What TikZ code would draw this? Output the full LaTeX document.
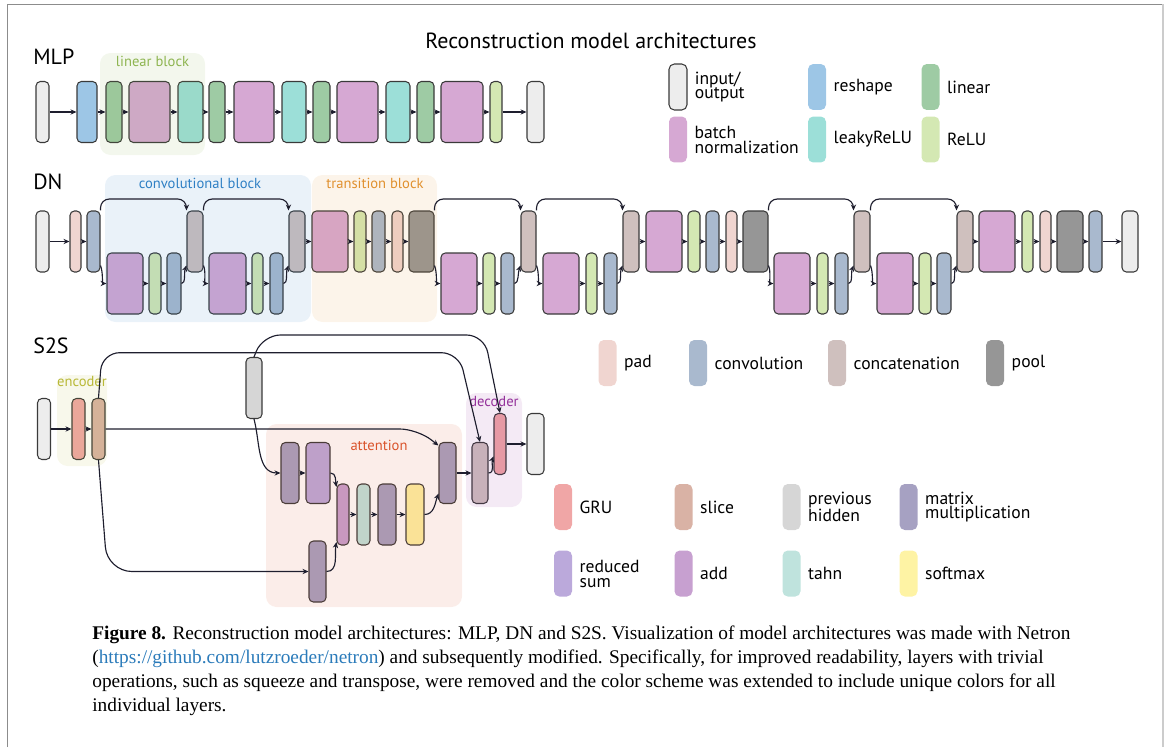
\documentclass[tikz,border=0pt]{standalone}
\usepackage{fontspec}
\setmainfont{PT Sans}
\newfontfamily\capfont{Liberation Serif}
\usetikzlibrary{arrows.meta, positioning}

\definecolor{cIO}{HTML}{EDEDED}
\definecolor{cRes}{HTML}{9DC6E6}
\definecolor{cLin}{HTML}{9ECBA4}
\definecolor{cBN}{HTML}{D6A8D3}
\definecolor{cLeak}{HTML}{9CDFD8}
\definecolor{cRelu}{HTML}{D4E8B3}
\definecolor{cPad}{HTML}{F0D5D0}
\definecolor{cConv}{HTML}{A9B9CE}
\definecolor{cCat}{HTML}{CFC0BE}
\definecolor{cPool}{HTML}{969696}
\definecolor{cGRU}{HTML}{F0A6A6}
\definecolor{cSlice}{HTML}{D9B2A5}
\definecolor{cHid}{HTML}{D6D6D6}
\definecolor{cMM}{HTML}{A6A1C2}
\definecolor{cSum}{HTML}{BBA9DB}
\definecolor{cAdd}{HTML}{C7A0D0}
\definecolor{cTanh}{HTML}{BFE3DD}
\definecolor{cSoft}{HTML}{FEF3A4}
\definecolor{cEdge}{HTML}{3A3A3A}
\definecolor{cArr}{HTML}{1E1E2E}
\definecolor{cLinBlk}{HTML}{8DB450}
\definecolor{cConvBlk}{HTML}{2E7FC4}
\definecolor{cTransBlk}{HTML}{E0902E}
\definecolor{cEnc}{HTML}{B8B836}
\definecolor{cAtt}{HTML}{D9532B}
\definecolor{cDec}{HTML}{93309A}
\definecolor{cLink}{HTML}{2B7BBA}

\begin{document}
\begin{tikzpicture}[x=0.02cm, y=-0.02cm, >={Stealth[length=3.4pt,width=3pt]},
        box/.style 2 args={draw=cEdge, line width=0.6pt, rounded corners=2.5pt, inner sep=0pt,
            fill=#1, minimum width=#2*0.02cm, minimum height=1.22cm},
        flow/.style={->, draw=cArr, line width=0.65pt},
        skiparc/.style={rounded corners=5pt, to path={(\tikztostart.north east) -- (\tikztostart.north east |- dn_top)
            -- (\tikztotarget.north west |- dn_top) -- (\tikztotarget.north west)}},
        godown/.style={to path={([yshift=4pt]\tikztostart.south east) .. controls +(1.5pt,-4pt) and +(-2.5pt,0pt) .. (\tikztotarget.west)}},
        goup/.style={to path={(\tikztostart.east) .. controls +(2.5pt,0pt) and +(-1.5pt,-4pt) .. ([yshift=4pt]\tikztotarget.south west)}},
        blk/.style={fill=#1, fill opacity=0.1, rounded corners=6pt},
        blklab/.style={text=#1, inner sep=0pt, font=\fontsize{8.3}{9}\selectfont},
        legbox/.style={rounded corners=3pt, inner sep=0pt, minimum width=0.36cm, minimum height=0.92cm},
        legtxt/.style={inner sep=0pt, align=left, font=\fontsize{10}{8.5}\selectfont},
        rowlab/.style={anchor=west, inner sep=0pt, font=\fontsize{12.5}{14}\selectfont},
        capt/.style={anchor=north west, inner sep=0pt, align=left, font=\capfont\fontsize{11}{13.6}\selectfont}]

    \useasboundingbox (0,0) rectangle (1168,747);
    \draw[black!45, line width=0.5pt] (7,747) -- (7,4) -- (1163,4);
    \draw[black!20, line width=1.2pt] (1163,4) -- (1163,747);

    \node[font=\fontsize{12.5}{14}\selectfont] (ttl) at (591,41) {Reconstruction model architectures};
    \node[rowlab] (lab_mlp) at (33,57)  {MLP};
    \node[rowlab] (lab_dn)  at (33,182) {DN};
    \node[rowlab] (lab_s2s) at (33,346) {S2S};

    % MLP
    \node[box={cIO}{13}]   (m_in)  at (42.5,112)  {};
    \node[box={cRes}{20}]  (m_rs)  at (87,112)    {};
    \node[box={cLin}{16}]  (m_li1) at (114,112)   {};
    \node[box={cBN}{41}]   (m_bn1) at (149.5,112) {};
    \node[box={cLeak}{25}] (m_lk1) at (190.5,112) {};
    \node[box={cLin}{16}]  (m_li2) at (217,112)   {};
    \node[box={cBN}{40}]   (m_bn2) at (254,112)   {};
    \node[box={cLeak}{24}] (m_lk2) at (294,112)   {};
    \node[box={cLin}{17}]  (m_li3) at (321.5,112) {};
    \node[box={cBN}{41}]   (m_bn3) at (357.5,112) {};
    \node[box={cLeak}{24}] (m_lk3) at (398,112)   {};
    \node[box={cLin}{17}]  (m_li4) at (425.5,112) {};
    \node[box={cBN}{42}]   (m_bn4) at (462,112)   {};
    \node[box={cRelu}{12}] (m_re)  at (496,112)   {};
    \node[box={cIO}{17}]   (m_out) at (535.5,112) {};

    % DN
    \node[box={cIO}{13}]   (d_in)  at (42.5,241.5)  {};
    \node[box={cPad}{11}]  (d_pd0) at (75.5,241.5)  {};
    \node[box={cConv}{13}] (d_cv0) at (93.5,241.5)  {};
    \node[box={cBN}{36}]   (d_bn1) at (125,283.5)   {};
    \node[box={cRelu}{12}] (d_re1) at (155,283.5)   {};
    \node[box={cConv}{14}] (d_cv1) at (174,283.5)   {};
    \node[box={cCat}{16}]  (d_ct1) at (195,241.5)   {};
    \node[box={cBN}{37}]   (d_bn2) at (227.5,283.5) {};
    \node[box={cRelu}{11}] (d_re2) at (257.5,283.5) {};
    \node[box={cConv}{13}] (d_cv2) at (276.5,283.5) {};
    \node[box={cCat}{16}]  (d_ct2) at (297,241.5)   {};
    \node[box={cBN}{36}]   (d_bn3) at (330,241.5)   {};
    \node[box={cRelu}{12}] (d_re3) at (360,241.5)   {};
    \node[box={cConv}{13}] (d_cv3) at (378.5,241.5) {};
    \node[box={cPad}{11}]  (d_pd3) at (397.5,241.5) {};
    \node[box={cPool}{25}] (d_pl3) at (421.5,241.5) {};
    \node[box={cBN}{36}]   (d_bn4) at (459,283.5)   {};
    \node[box={cRelu}{12}] (d_re4) at (489,283.5)   {};
    \node[box={cConv}{13}] (d_cv4) at (507.5,283.5) {};
    \node[box={cCat}{15}]  (d_ct4) at (528.5,241.5) {};
    \node[box={cBN}{36}]   (d_bn5) at (561,283.5)   {};
    \node[box={cRelu}{11}] (d_re5) at (591.5,283.5) {};
    \node[box={cConv}{13}] (d_cv5) at (610.5,283.5) {};
    \node[box={cCat}{16}]  (d_ct5) at (631,241.5)   {};
    \node[box={cBN}{36}]   (d_bn6) at (664,241.5)   {};
    \node[box={cRelu}{12}] (d_re6) at (694,241.5)   {};
    \node[box={cConv}{13}] (d_cv6) at (712.5,241.5) {};
    \node[box={cPad}{11}]  (d_pd6) at (731.5,241.5) {};
    \node[box={cPool}{25}] (d_pl6) at (755.5,241.5) {};
    \node[box={cBN}{36}]   (d_bn7) at (792,283.5)   {};
    \node[box={cRelu}{11}] (d_re7) at (822.5,283.5) {};
    \node[box={cConv}{13}] (d_cv7) at (841.5,283.5) {};
    \node[box={cCat}{16}]  (d_ct7) at (862,241.5)   {};
    \node[box={cBN}{36}]   (d_bn8) at (895,283.5)   {};
    \node[box={cRelu}{12}] (d_re8) at (925,283.5)   {};
    \node[box={cConv}{14}] (d_cv8) at (944,283.5)   {};
    \node[box={cCat}{16}]  (d_ct8) at (965,241.5)   {};
    \node[box={cBN}{36}]   (d_bn9) at (997,241.5)   {};
    \node[box={cRelu}{11}] (d_re9) at (1027.5,241.5) {};
    \node[box={cPad}{11}]  (d_pd9) at (1045.5,241.5) {};
    \node[box={cPool}{26}] (d_pl9) at (1070,241.5)  {};
    \node[box={cConv}{13}] (d_cv9) at (1095.5,241.5) {};
    \node[box={cIO}{16}]   (d_out) at (1130,241.5)  {};

    % S2S
    \node[box={cIO}{13}]    (s_in)   at (44,429)     {};
    \node[box={cGRU}{13}]   (s_gru)  at (78.5,429)   {};
    \node[box={cSlice}{13}] (s_sl)   at (98.5,429)   {};
    \node[box={cHid}{16}]   (s_ph)   at (254,388)    {};
    \node[box={cMM}{18}]    (s_mm1)  at (290,473)    {};
    \node[box={cSum}{24}]   (s_rs)   at (318,473)    {};
    \node[box={cAdd}{12}]   (s_add)  at (343,514.5)  {};
    \node[box={cTanh}{13}]  (s_th)   at (363.5,514.5) {};
    \node[box={cMM}{18}]    (s_mm2)  at (387,514.5)  {};
    \node[box={cSoft}{18}]  (s_sm)   at (415,514.5)  {};
    \node[box={cMM}{17}]    (s_mm3)  at (317.5,571.5) {};
    \node[box={cMM}{17}]    (s_mm4)  at (447.5,473)  {};
    \node[box={cCat}{16}]   (s_cat)  at (480,473)    {};
    \node[box={cGRU}{12}]   (s_dgru) at (500,444)    {};
    \node[box={cIO}{17}]    (s_out)  at (535.5,444)  {};

    % blocks
    \fill[blk=cLinBlk]   (100,53)  rectangle (205,155);
    \fill[blk=cConvBlk]  (105,175) rectangle (311,322);
    \fill[blk=cTransBlk] (312,175) rectangle (437,322);
    \fill[blk=cEnc]      (57,375)  rectangle (107,466);
    \fill[blk=cAtt]      (266,424) rectangle (462,607);
    \fill[blk=cDec]      (466,393) rectangle (522,507);
    \node[blklab=cLinBlk]   (lab_lin)   at (152.5,61) {linear block};
    \node[blklab=cConvBlk]  (lab_conv)  at (200,183)  {convolutional block};
    \node[blklab=cTransBlk] (lab_trans) at (375,183)  {transition block};
    \node[blklab=cEnc]      (lab_enc)   at (82,381)   {encoder};
    \node[blklab=cAtt]      (lab_att)   at (379,445)  {attention};
    \node[blklab=cDec]      (lab_dec)   at (494,401)  {decoder};

    % legend
    \node[legbox, fill=cIO, draw=cEdge, line width=0.6pt] (k_io) at (678,87) {};
    \node[legtxt] (t_io)   [right=4pt of k_io]   {input/\\output};
    \node[legbox, fill=cRes]   (k_rs)   at (817,87)    {};
    \node[legtxt] (t_rs)   [right=4pt of k_rs]   {reshape};
    \node[legbox, fill=cLin]   (k_li)   at (930.5,87)  {};
    \node[legtxt] (t_li)   [right=4pt of k_li]   {linear};
    \node[legbox, fill=cBN]    (k_bn)   at (678,139.5) {};
    \node[legtxt] (t_bn)   [right=4pt of k_bn]   {batch\\normalization};
    \node[legbox, fill=cLeak]  (k_lk)   at (817,139.5) {};
    \node[legtxt] (t_lk)   [right=4pt of k_lk]   {leakyReLU};
    \node[legbox, fill=cRelu]  (k_re)   at (930.5,139.5) {};
    \node[legtxt] (t_re)   [right=4pt of k_re]   {ReLU};

    \node[legbox, fill=cPad]   (k_pd)   at (607.5,363)  {};
    \node[legtxt] (t_pd)   [right=4pt of k_pd]   {pad};
    \node[legbox, fill=cConv]  (k_cv)   at (698,363)    {};
    \node[legtxt] (t_cv)   [right=4pt of k_cv]   {convolution};
    \node[legbox, fill=cCat]   (k_ct)   at (837,363)    {};
    \node[legtxt] (t_ct)   [right=4pt of k_ct]   {concatenation};
    \node[legbox, fill=cPool]  (k_pl)   at (995,363)    {};
    \node[legtxt] (t_pl)   [right=4pt of k_pl]   {pool};

    \node[legbox, fill=cGRU]   (k_gru)  at (563,507)    {};
    \node[legtxt] (t_gru)  [right=4pt of k_gru]  {GRU};
    \node[legbox, fill=cSlice] (k_sl)   at (683.5,507)  {};
    \node[legtxt] (t_sl)   [right=4pt of k_sl]   {slice};
    \node[legbox, fill=cHid]   (k_ph)   at (791.5,507)  {};
    \node[legtxt] (t_ph)   [right=4pt of k_ph]   {previous\\hidden};
    \node[legbox, fill=cMM]    (k_mm)   at (908.5,507)  {};
    \node[legtxt] (t_mm)   [right=4pt of k_mm]   {matrix\\multiplication};
    \node[legbox, fill=cSum]   (k_rs2)  at (563,573.5)  {};
    \node[legtxt] (t_rs2)  [right=4pt of k_rs2]  {reduced\\sum};
    \node[legbox, fill=cAdd]   (k_add)  at (683.5,573.5) {};
    \node[legtxt] (t_add)  [right=4pt of k_add]  {add};
    \node[legbox, fill=cTanh]  (k_th)   at (791.5,573.5) {};
    \node[legtxt] (t_th)   [right=4pt of k_th]   {tahn};
    \node[legbox, fill=cSoft]  (k_sm)   at (908.5,573.5) {};
    \node[legtxt] (t_sm)   [right=4pt of k_sm]   {softmax};

    % connectors
    \coordinate (dn_top) at (0,199);
    \coordinate (s_hi)   at (0,352.7);
    \coordinate (s_top)  at (0,335);

    \path[flow] (m_in) edge (m_rs)  (m_rs) edge (m_li1)  (m_li1) edge (m_bn1)  (m_bn1) edge (m_lk1)
        (m_lk1) edge (m_li2)  (m_li2) edge (m_bn2)  (m_bn2) edge (m_lk2)  (m_lk2) edge (m_li3)
        (m_li3) edge (m_bn3)  (m_bn3) edge (m_lk3)  (m_lk3) edge (m_li4)  (m_li4) edge (m_bn4)
        (m_bn4) edge (m_re)   (m_re) edge (m_out);

    \path[flow] (d_in) edge (d_pd0)  (d_pd0) edge (d_cv0)
        (d_bn1) edge (d_re1)  (d_re1) edge (d_cv1)
        (d_bn2) edge (d_re2)  (d_re2) edge (d_cv2)
        (d_ct2) edge (d_bn3)  (d_bn3) edge (d_re3)  (d_re3) edge (d_cv3)  (d_cv3) edge (d_pd3)  (d_pd3) edge (d_pl3)
        (d_bn4) edge (d_re4)  (d_re4) edge (d_cv4)
        (d_bn5) edge (d_re5)  (d_re5) edge (d_cv5)
        (d_ct5) edge (d_bn6)  (d_bn6) edge (d_re6)  (d_re6) edge (d_cv6)  (d_cv6) edge (d_pd6)  (d_pd6) edge (d_pl6)
        (d_bn7) edge (d_re7)  (d_re7) edge (d_cv7)
        (d_bn8) edge (d_re8)  (d_re8) edge (d_cv8)
        (d_ct8) edge (d_bn9)  (d_bn9) edge (d_re9)  (d_re9) edge (d_pd9)  (d_pd9) edge (d_pl9)
        (d_pl9) edge (d_cv9)  (d_cv9) edge (d_out);

    \path[flow] (d_cv0) edge[skiparc] (d_ct1) edge[godown] (d_bn1)
        (d_cv1) edge[goup] (d_ct1)
        (d_ct1) edge[skiparc] (d_ct2) edge[godown] (d_bn2)
        (d_cv2) edge[goup] (d_ct2)
        (d_pl3) edge[skiparc] (d_ct4) edge[godown] (d_bn4)
        (d_cv4) edge[goup] (d_ct4)
        (d_ct4) edge[skiparc] (d_ct5) edge[godown] (d_bn5)
        (d_cv5) edge[goup] (d_ct5)
        (d_pl6) edge[skiparc] (d_ct7) edge[godown] (d_bn7)
        (d_cv7) edge[goup] (d_ct7)
        (d_ct7) edge[skiparc] (d_ct8) edge[godown] (d_bn8)
        (d_cv8) edge[goup] (d_ct8);

    \path[flow] (s_in) edge (s_gru)  (s_gru) edge (s_sl)  (s_mm1) edge (s_rs)
        (s_add) edge (s_th)  (s_th) edge (s_mm2)  (s_mm2) edge (s_sm)
        (s_mm4) edge (s_cat)  (s_dgru) edge (s_out);
    \draw[flow, rounded corners=10pt] (s_sl.north) -- ([xshift=2pt]s_sl.north |- s_hi)
        -- ([xshift=-12pt]s_cat.north |- s_hi) -- (s_cat.north);
    \draw[flow, rounded corners=10pt] (s_ph.north) -- ([xshift=5pt]s_ph.north |- s_top)
        -- ([xshift=-9pt]s_dgru.north |- s_top) -- (s_dgru.north);
    \draw[flow, rounded corners=10pt] (s_sl.east) -- ([xshift=-12pt]s_mm4.north west |- s_sl.east)
        -- ([yshift=-2pt]s_mm4.north west);
    \draw[flow, rounded corners=14pt] (s_sl.south) -- ([xshift=5pt]s_sl.south |- s_mm3.west) -- (s_mm3.west);
    \draw[flow] (s_ph.south) to[out=-75, in=180] (s_mm1.west);
    \draw[flow] (s_rs.east) to[out=0, in=100] ([yshift=-2pt]s_add.north west);
    \draw[flow] (s_mm3.east) to[out=0, in=-100] ([yshift=2pt]s_add.south west);
    \draw[flow] (s_sm.east) to[out=0, in=-110] ([yshift=6pt]s_mm4.south west);
    \draw[flow] (s_cat.east) to[out=0, in=-110] ([yshift=-7pt]s_dgru.west);

    % caption
    \node[capt] (cap) at (92,626) {\textbf{Figure 8.} Reconstruction model architectures: MLP, DN and S2S. Visualization of model architectures was made with Netron\\
        (\textcolor{cLink}{https://github.com/lutzroeder/netron}) and subsequently modified. Specifically, for improved readability, layers with trivial\\
        operations, such as squeeze and transpose, were removed and the color scheme was extended to include unique colors for all\\
        individual layers.};
\end{tikzpicture}
\end{document}
